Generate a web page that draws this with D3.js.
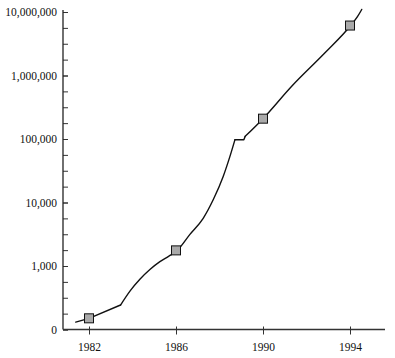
<!DOCTYPE html>
<html><head><meta charset="utf-8">
<script src="https://cdn.jsdelivr.net/npm/d3@7"></script>
<style>body{margin:0;background:#fff}</style>
</head><body><svg id="c" width="395" height="358"></svg>
<script>
const lineYears = [1981.39,1982.0,1983.45,1983.9,1984.34,1984.8,1985.26,1985.66,1986.06,1986.64,1987.25,1987.71,1988.17,1988.48,1988.71,1989.12,1989.18,1990.0,1991.32,1992.85,1994.03,1994.35,1994.54];
const lineValues = [131,150,243,410,619,880,1172,1420,1762,3150,5640,11040,25700,53200,97500,97500,110000,209000,676000,2275000,6120000,8500000,10970000];
const markerYears = [1982,1986,1990,1994];
const markerValues = [150,1762,209000,6120000];
const yTickValues = [100,1000,10000,100000,1000000,10000000];
const yTickLabels = ["0","1,000","10,000","100,000","1,000,000","10,000,000"];
const xTickValues = [1982,1986,1990,1994];
// index ranges of the smooth stretches of the line (others drawn straight)
const smoothRanges = [[2,14],[16,22]];

const FONT = "'Liberation Serif','DejaVu Serif','Times New Roman',serif";
const svg = d3.select("#c");
const x = d3.scaleLinear().domain([1982,1994]).range([89,350]);
const y = d3.scaleLog().domain([100,1e7]).range([329.5,12]);
const axisX0 = 63, axisX1 = 385, axisY0 = 10;

const minor = d3.range(0,21).map(k=>Math.pow(10,2+k/4));
svg.append("g").attr("transform",`translate(${axisX0},0)`)
  .call(d3.axisLeft(y).tickValues(minor).tickSizeInner(-5).tickSizeOuter(0).tickFormat(""))
  .call(g=>g.select(".domain").remove())
  .call(g=>g.selectAll("line").attr("stroke","#333"));
svg.append("g").attr("transform",`translate(${axisX0},0)`)
  .call(d3.axisLeft(y).tickValues(yTickValues).tickSizeInner(-5).tickSizeOuter(0).tickPadding(6)
    .tickFormat((d,i)=>yTickLabels[i]))
  .attr("font-family",FONT).attr("font-size",11.5)
  .call(g=>g.select(".domain").remove())
  .call(g=>g.selectAll("line").attr("stroke","#333"))
  .call(g=>g.selectAll("text").attr("fill","#111"));

svg.append("g").attr("transform",`translate(0,${y(100)})`)
  .call(d3.axisBottom(x).tickValues(xTickValues).tickSizeInner(5).tickSizeOuter(0).tickPadding(8).tickFormat(d3.format("d")))
  .attr("font-family",FONT).attr("font-size",11.5)
  .call(g=>g.select(".domain").remove())
  .call(g=>g.selectAll("line").attr("y1",-3).attr("stroke","#333"))
  .call(g=>g.selectAll("text").attr("fill","#111"));

svg.append("line").attr("x1",axisX0).attr("x2",axisX0).attr("y1",axisY0).attr("y2",y(100)).attr("stroke","#222").attr("stroke-width",1.3);
svg.append("line").attr("x1",axisX0).attr("x2",axisX1).attr("y1",y(100)).attr("y2",y(100)).attr("stroke","#333").attr("stroke-width",1.3);

const data = lineYears.map((d,i)=>[d,lineValues[i]]);
const pieces = [];
let cur = 0;
smoothRanges.forEach(([a,b])=>{
  if (a > cur) pieces.push({pts:data.slice(cur,a+1),smooth:false});
  pieces.push({pts:data.slice(a,b+1),smooth:true});
  cur = b;
});
if (cur < data.length-1) pieces.push({pts:data.slice(cur),smooth:false});
svg.selectAll("path.ln").data(pieces).join("path").attr("class","ln")
  .attr("d",p=>d3.line().x(d=>x(d[0])).y(d=>y(d[1])).curve(p.smooth?d3.curveMonotoneX:d3.curveLinear)(p.pts))
  .attr("fill","none").attr("stroke","#111").attr("stroke-width",1.4).attr("stroke-linejoin","round").attr("stroke-linecap","round");

const s = 9;
svg.selectAll("rect.m").data(markerYears).join("rect").attr("class","m")
  .attr("x",(d)=>x(d)-s/2).attr("y",(d,i)=>y(markerValues[i])-s/2)
  .attr("width",s).attr("height",s).attr("fill","#aaa").attr("stroke","#111").attr("stroke-width",1);
</script></body></html>
